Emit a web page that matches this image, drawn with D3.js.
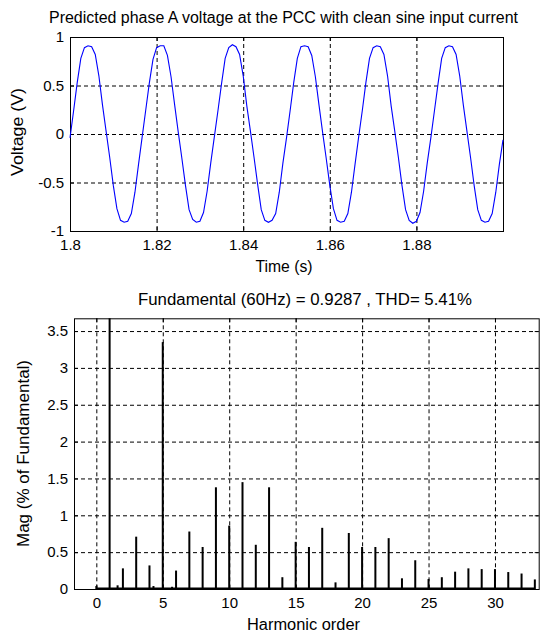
<!DOCTYPE html>
<html>
<head>
<meta charset="utf-8">
<script src="https://cdn.jsdelivr.net/npm/d3@7"></script>
<style>
    body { margin: 0; background: #fff; }
    text { font-family: "Liberation Sans", Arial, sans-serif; fill: #000; }
</style>
</head>
<body>
<div id="chart"></div>
<script>
// top plot: phase A voltage, one sample every 1/1200 s from 1.8 s
const startTime = 1.8;
const sampleStep = 1 / 1200;
const voltage = [
    -0.04, 0.24, 0.53, 0.78, 0.89, 0.91, 0.90, 0.82, 0.60, 0.30, 0.03, -0.24, -0.53, -0.77, -0.89, -0.91, -0.90, -0.82, -0.60, -0.31,
    -0.03, 0.25, 0.53, 0.77, 0.89, 0.91, 0.91, 0.81, 0.59, 0.30, 0.02, -0.25, -0.53, -0.78, -0.88, -0.91, -0.90, -0.81, -0.59, -0.30,
    -0.03, 0.24, 0.52, 0.78, 0.89, 0.92, 0.90, 0.82, 0.60, 0.29, 0.03, -0.24, -0.52, -0.78, -0.89, -0.91, -0.89, -0.82, -0.60, -0.30,
    -0.04, 0.24, 0.53, 0.78, 0.90, 0.91, 0.90, 0.81, 0.59, 0.30, 0.02, -0.25, -0.53, -0.77, -0.89, -0.91, -0.90, -0.82, -0.60, -0.31,
    -0.03, 0.24, 0.53, 0.78, 0.89, 0.91, 0.90, 0.82, 0.60, 0.29, 0.03, -0.24, -0.53, -0.78, -0.89, -0.92, -0.90, -0.81, -0.59, -0.30,
    -0.04, 0.24, 0.52, 0.78, 0.89, 0.91, 0.90, 0.82, 0.60, 0.30, 0.03, -0.24, -0.53, -0.78, -0.89, -0.91, -0.90, -0.82, -0.60, -0.31,
    -0.06
];
const timeTicks = [1.8, 1.82, 1.84, 1.86, 1.88];
const voltageTicks = [-1, -0.5, 0, 0.5, 1];

// bottom plot: harmonic spectrum (% of fundamental)
const harmonicOrder = [0, 1, 1.6, 2, 3, 4, 4.3, 5, 5.7, 6, 7, 8, 9, 10, 11, 12, 13, 14, 15, 16, 17, 18, 19, 20, 21, 22, 23, 24, 25, 26, 27, 28, 29, 30, 31, 32, 33];
const magnitude = [0.04, 100, 0.05, 0.28, 0.71, 0.32, 0.04, 3.35, 0.03, 0.25, 0.78, 0.57, 1.38, 0.86, 1.45, 0.60, 1.38, 0.16, 0.64, 0.57, 0.83, 0.09, 0.76, 0.57, 0.57, 0.69, 0.145, 0.39, 0.135, 0.16, 0.235, 0.28, 0.27, 0.27, 0.23, 0.21, 0.13];
const orderTicks = [0, 5, 10, 15, 20, 25, 30];
const magTicks = [0, 0.5, 1, 1.5, 2, 2.5, 3, 3.5];

const width = 555;
const height = 634;
const fontSize = 15;
const labelSize = 16;
const dash = '4 3';

const svg = d3.select('#chart')
    .append('svg')
        .attr('viewBox', [0, 0, width, height])
        .attr('width', width)
        .attr('height', height);

svg.append('rect')
    .attr('width', width)
    .attr('height', height)
    .attr('fill', '#fff');

// draws a MATLAB-like box with inward ticks and dashed grid
const drawFrame = (g, x, y, xTicks, yTicks) => {
    const [x0, x1] = x.range();
    const [y0, y1] = y.range();

    g.append('g')
        .attr('stroke', '#000')
        .attr('stroke-dasharray', dash)
        .selectAll('line')
        .data(xTicks.filter(d => x(d) > x0 + 1 && x(d) < x1 - 1))
        .join('line')
            .attr('x1', d => x(d) + 0.5)
            .attr('x2', d => x(d) + 0.5)
            .attr('y1', y1)
            .attr('y2', y0);
    g.append('g')
        .attr('stroke', '#000')
        .attr('stroke-dasharray', dash)
        .selectAll('line')
        .data(yTicks.filter(d => y(d) < y0 - 1 && y(d) > y1 + 1))
        .join('line')
            .attr('x1', x0)
            .attr('x2', x1)
            .attr('y1', d => y(d) + 0.5)
            .attr('y2', d => y(d) + 0.5);

    g.append('g')
        .attr('transform', `translate(0, ${y0})`)
        .call(d3.axisBottom(x).tickValues(xTicks).tickSizeInner(-4).tickSizeOuter(0).tickPadding(8).tickFormat(d => String(d)));
    g.append('g')
        .attr('transform', `translate(${x0}, 0)`)
        .call(d3.axisLeft(y).tickValues(yTicks).tickSizeInner(-4).tickSizeOuter(0).tickPadding(6).tickFormat(d => String(d)));
    g.append('g')
        .attr('transform', `translate(0, ${y1})`)
        .call(d3.axisTop(x).tickValues(xTicks).tickSizeInner(-4).tickSizeOuter(0).tickFormat(''));
    g.append('g')
        .attr('transform', `translate(${x1}, 0)`)
        .call(d3.axisRight(y).tickValues(yTicks).tickSizeInner(-4).tickSizeOuter(0).tickFormat(''));

    g.selectAll('.domain').remove();
    g.selectAll('.tick text')
        .attr('font-size', fontSize)
        .attr('font-family', '"Liberation Sans", Arial, sans-serif');

    g.append('rect')
        .attr('x', x0 + 0.5)
        .attr('y', y1 + 0.5)
        .attr('width', x1 - x0)
        .attr('height', y0 - y1)
        .attr('fill', 'none')
        .attr('stroke', '#000');
};

// text label stretched to the width seen in the picture
const addLabel = (g, str, x, y, len, rotate) => {
    g.append('text')
        .attr('transform', `translate(${x}, ${y})` + (rotate ? ' rotate(-90)' : ''))
        .attr('text-anchor', 'middle')
        .attr('font-size', labelSize)
        .attr('textLength', len)
        .attr('lengthAdjust', 'spacingAndGlyphs')
        .text(str);
};

// ---------- top plot ----------
const timeScale = d3.scaleLinear()
    .domain([1.8, 1.9])
    .range([70, 503]);
const voltageScale = d3.scaleLinear()
    .domain([-1, 1])
    .range([231, 37]);

const topPlot = svg.append('g');
drawFrame(topPlot, timeScale, voltageScale, timeTicks, voltageTicks);

const waveform = voltage.map((v, i) => ({t: startTime + i * sampleStep, v}));
topPlot.append('path')
    .datum(waveform)
    .attr('fill', 'none')
    .attr('stroke', '#0000ff')
    .attr('stroke-width', 1.1)
    .attr('d', d3.line().x(d => timeScale(d.t)).y(d => voltageScale(d.v)));

addLabel(topPlot, 'Predicted phase A voltage at the PCC with clean sine input current', 283.5, 23, 469);
addLabel(topPlot, 'Time (s)', 284, 272, 57);
addLabel(topPlot, 'Voltage (V)', 23, 132, 88, true);

// ---------- bottom plot ----------
const orderScale = d3.scaleLinear()
    .domain([-1.68, 33.29])
    .range([74, 538.7]);
const magScale = d3.scaleLinear()
    .domain([0, 3.673])
    .range([589, 318.3]);

const bottomPlot = svg.append('g');

svg.append('clipPath')
    .attr('id', 'spectrum-clip')
    .append('rect')
        .attr('x', 74)
        .attr('y', 318.3)
        .attr('width', 538.7 - 74)
        .attr('height', 589 - 318.3);

drawFrame(bottomPlot, orderScale, magScale, orderTicks, magTicks);

const spectrum = harmonicOrder.map((h, i) => ({h, mag: magnitude[i]}));
bottomPlot.append('g')
    .attr('clip-path', 'url(#spectrum-clip)')
    .attr('fill', '#000')
    .selectAll('rect')
    .data(spectrum)
    .join('rect')
        .attr('x', d => orderScale(d.h) - 1)
        .attr('width', 2)
        .attr('y', d => magScale(d.mag))
        .attr('height', d => magScale(0) - magScale(d.mag));

// bar baseline
bottomPlot.append('line')
    .attr('x1', orderScale(d3.min(harmonicOrder)))
    .attr('x2', orderScale(d3.max(harmonicOrder)))
    .attr('y1', magScale(0) - 0.5)
    .attr('y2', magScale(0) - 0.5)
    .attr('stroke', '#000')
    .attr('stroke-width', 2);

addLabel(bottomPlot, 'Fundamental (60Hz) = 0.9287 , THD= 5.41%', 305, 305, 334);
addLabel(bottomPlot, 'Harmonic order', 303.5, 630, 113);
addLabel(bottomPlot, 'Mag (% of Fundamental)', 29, 453.5, 187, true);
</script>
</body>
</html>
